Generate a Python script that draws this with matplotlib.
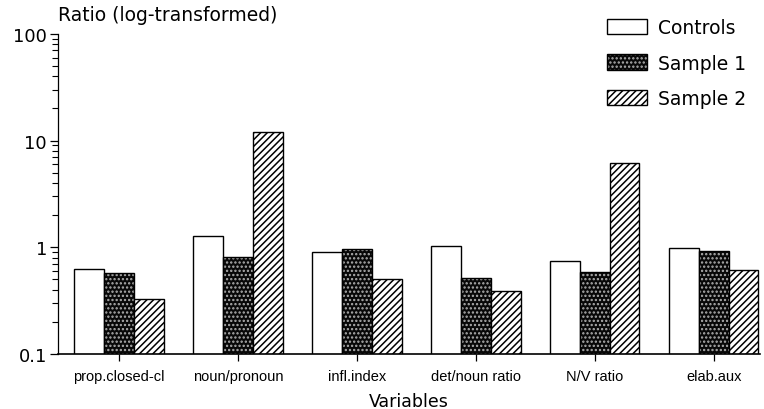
import matplotlib
matplotlib.use("Agg")
import matplotlib.pyplot as plt
import matplotlib.patches as mpatches
import numpy as np
from matplotlib.ticker import FixedLocator, FixedFormatter, LogLocator, NullFormatter

plt.rcParams['font.family'] = ['DejaVu Sans']
plt.rcParams['hatch.linewidth'] = 1.1

# data
variables = ["prop.closed-cl", "noun/pronoun", "infl.index", "det/noun ratio", "N/V ratio", "elab.aux"]
controls = [0.63, 1.28, 0.91, 1.04, 0.74, 0.99]
sample1 = [0.57, 0.81, 0.96, 0.52, 0.59, 0.93]
sample2 = [0.33, 12.1, 0.51, 0.39, 6.1, 0.61]
series_names = ["Controls", "Sample 1", "Sample 2"]

fig = plt.figure(figsize=(7.64, 4.10), dpi=100)
ax = fig.add_axes([0.076, 0.134, 0.919, 0.781])

x = np.arange(len(variables))
w = 0.25

# controls: plain white bars
ax.bar(x - w, controls, w, facecolor="white", edgecolor="black", linewidth=1.0)

# sample 1: black with light dots, outline drawn on top
ax.bar(x, sample1, w, facecolor="#080808", edgecolor="#b0b0b0", hatch="....", linewidth=0)
ax.bar(x, sample1, w, fill=False, edgecolor="black", linewidth=1.0)

# sample 2: diagonal lines
ax.bar(x + w, sample2, w, facecolor="white", edgecolor="black", hatch="/////", linewidth=1.0)

ax.set_yscale("log")
ax.set_ylim(0.1, 100)
ax.set_xlim(-0.513, 5.39)

ax.yaxis.set_major_locator(FixedLocator([0.1, 1, 10, 100]))
ax.yaxis.set_major_formatter(FixedFormatter(["0.1", "1", "10", "100"]))
ax.yaxis.set_minor_locator(LogLocator(base=10, subs=np.arange(2, 10)))
ax.yaxis.set_minor_formatter(NullFormatter())
ax.tick_params(axis="y", which="major", direction="out", length=6, width=0.9, labelsize=13, pad=2)
ax.tick_params(axis="y", which="minor", direction="out", length=4, width=0.8)

ax.set_xticks(x)
ax.set_xticklabels(variables, family=['Liberation Sans Narrow', 'Liberation Sans', 'DejaVu Sans'], fontsize=10.5)
ax.tick_params(axis="x", direction="out", length=5, width=0.9, pad=6)

for s in ["top", "right"]:
    ax.spines[s].set_visible(False)
ax.spines["left"].set_linewidth(0.9)
ax.spines["bottom"].set_linewidth(1.2)

fig.text(0.076, 0.963, "Ratio (log-transformed)", fontsize=13.5, ha="left", va="center")
ax.set_xlabel("Variables", fontsize=12.5, labelpad=6)

# legend
h1 = mpatches.Patch(facecolor="white", edgecolor="black", linewidth=1.0)
h2a = mpatches.Patch(facecolor="#080808", edgecolor="#b0b0b0", hatch="....", linewidth=0)
h2b = mpatches.Patch(fill=False, edgecolor="black", linewidth=1.0)
h3 = mpatches.Patch(facecolor="white", edgecolor="black", hatch="/////", linewidth=1.0)
fig.legend([h1, (h2a, h2b), h3], series_names, loc="upper left",
           bbox_to_anchor=(607 / 764, 1 - 19 / 410), borderaxespad=0, borderpad=0,
           frameon=False, fontsize=13.5, handlelength=2.15, handleheight=0.9,
           labelspacing=0.88, handletextpad=0.55)

fig.savefig("out.png", dpi=100)
